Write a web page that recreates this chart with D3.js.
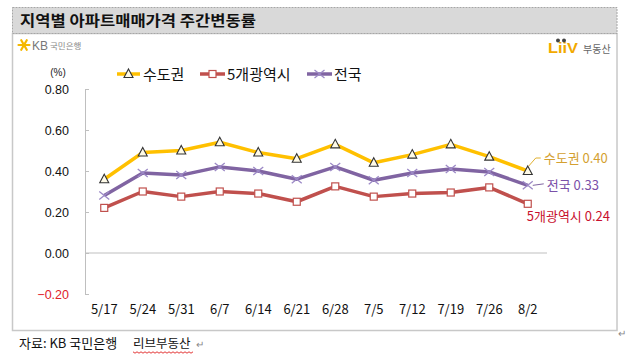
<!DOCTYPE html>
<html><head><meta charset="utf-8">
<script src="https://cdn.jsdelivr.net/npm/d3@7/dist/d3.min.js"></script>
<style>body{margin:0;background:#fff}svg{display:block}</style>
</head><body>
<svg id="c" width="634" height="356"></svg>
<script>
const dates = ["5/17","5/24","5/31","6/7","6/14","6/21","6/28","7/5","7/12","7/19","7/26","8/2"];
const capital = [0.36,0.49,0.50,0.54,0.49,0.46,0.53,0.44,0.48,0.53,0.47,0.40];
const metro5  = [0.22,0.30,0.275,0.30,0.29,0.25,0.325,0.275,0.29,0.295,0.32,0.24];
const nation  = [0.28,0.39,0.38,0.42,0.40,0.36,0.42,0.355,0.39,0.41,0.395,0.33];
const yTicks = [-0.2,0,0.2,0.4,0.6,0.8];
const seriesNames = ["수도권","5개광역시","전국"];
const titleText = "지역별 아파트매매가격 주간변동률";
const sourceText = "자료: KB 국민은행";
const sourceText2 = "리브부동산";

const svg = d3.select("#c");
const KR = "'Noto Sans CJK KR','Noto Sans',sans-serif";
const NUM = "'Liberation Sans',Arial,sans-serif";

// frames
svg.append("rect").attr("x",12.5).attr("y",33.5).attr("width",604.5).attr("height",297)
  .attr("fill","#fff").attr("stroke","#c8c8c8").attr("stroke-width",1.5);
svg.append("rect").attr("x",12.5).attr("y",7.5).attr("width",604.5).attr("height",26)
  .attr("fill","#d9d9d9").attr("stroke","#a6a6a6").attr("stroke-dasharray","2,1");
svg.append("text").attr("x",20).attr("y",26).attr("font-family",KR).attr("font-weight","bold")
  .attr("font-size",15).attr("fill","#111").attr("textLength",236).attr("lengthAdjust","spacingAndGlyphs").text(titleText);

// KB logo
const kb = svg.append("g").attr("transform","translate(24,45)");
for (let i=0;i<6;i++){
  kb.append("line").attr("x1",0).attr("y1",0).attr("x2",5.5*Math.cos(i*Math.PI/3)).attr("y2",5.5*Math.sin(i*Math.PI/3))
    .attr("stroke","#f5b800").attr("stroke-width",2.2).attr("stroke-linecap","round");
}
svg.append("text").attr("x",32).attr("y",49.5).attr("font-family",NUM).attr("font-size",12).attr("fill","#777").text("KB");
svg.append("text").attr("x",50).attr("y",48.5).attr("font-family",KR).attr("font-size",8.5).attr("fill","#888").text("국민은행");
// Liiv logo
svg.append("text").attr("x",548).attr("y",53).attr("font-family",NUM).attr("font-weight","bold").attr("font-size",15)
  .attr("fill","#f2a900").attr("textLength",30).attr("lengthAdjust","spacingAndGlyphs").text("LiiV");
svg.append("circle").attr("cx",558).attr("cy",40.5).attr("r",2).attr("fill","#444");
svg.append("circle").attr("cx",564).attr("cy",40.5).attr("r",2).attr("fill","#444");
svg.append("text").attr("x",583).attr("y",52.5).attr("font-family",KR).attr("font-size",10).attr("fill","#666").text("부동산");

// scales
const x = d3.scaleBand().domain(dates).range([85,547]);
const y = d3.scaleLinear().domain([-0.2,0.8]).range([294,89]);
const cx = d => x(d)+x.bandwidth()/2;

// y axis
const ya = svg.append("g").attr("transform","translate(85,0)")
  .call(d3.axisLeft(y).tickValues(yTicks).tickFormat(d3.format(".2f")).tickSizeInner(-4).tickSizeOuter(0).tickPadding(16));
ya.select(".domain").attr("stroke","#bfbfbf");
ya.selectAll(".tick line").attr("stroke","#bfbfbf");
ya.selectAll(".tick text").attr("font-family",NUM).attr("font-size",12.5)
  .attr("fill",d=>d<0?"#e0202a":"#111");
svg.append("text").attr("x",58).attr("y",76).attr("text-anchor","middle").attr("font-family",NUM)
  .attr("font-size",10).attr("fill","#222").text("(%)");

// zero line
svg.append("line").attr("x1",85).attr("x2",547).attr("y1",y(0)).attr("y2",y(0)).attr("stroke","#bfbfbf").attr("stroke-width",1);

// x axis labels
const xa = svg.append("g").attr("transform","translate(0,294)")
  .call(d3.axisBottom(x).tickSize(0).tickPadding(11));
xa.select(".domain").remove();
xa.selectAll(".tick text").attr("font-family",KR).attr("font-size",13).attr("fill","#111");

// series
const series = [
  {name:seriesNames[0], vals:capital, color:"#ffc000", marker:"tri"},
  {name:seriesNames[1], vals:metro5, color:"#c0504d", marker:"sq"},
  {name:seriesNames[2], vals:nation, color:"#8064a2", marker:"x"}
];
const line = d3.line().x((d,i)=>cx(dates[i])).y(d=>y(d));
function marker(g, type, px, py){
  if(type==="tri"){
    g.append("path").attr("d",`M${px},${py-5}L${px+4.5},${py+3.5}L${px-4.5},${py+3.5}Z`)
      .attr("fill","#fffbe8").attr("stroke","#333").attr("stroke-width",1.1);
  } else if(type==="sq"){
    g.append("rect").attr("x",px-3.5).attr("y",py-3.5).attr("width",7).attr("height",7)
      .attr("fill","#fff").attr("stroke","#c0504d").attr("stroke-width",1.2);
  } else {
    g.append("path").attr("d",`M${px-5},${py-4}L${px+5},${py+4}M${px-5},${py+4}L${px+5},${py-4}`)
      .attr("stroke","#9c89c6").attr("stroke-width",1.3);
  }
}
// draw order: red, purple, yellow
[series[1],series[2],series[0]].forEach(s=>{
  const g = svg.append("g");
  g.append("path").datum(s.vals).attr("d",line).attr("fill","none").attr("stroke",s.color)
    .attr("stroke-width",3.5).attr("stroke-linejoin","round");
  s.vals.forEach((v,i)=>marker(g,s.marker,cx(dates[i]),y(v)));
});

// legend
const leg = [
  {x1:117,x2:140,tx:143, s:series[0]},
  {x1:200,x2:225,tx:227, s:series[1]},
  {x1:307,x2:332,tx:334, s:series[2]}
];
leg.forEach(l=>{
  const g = svg.append("g");
  g.append("line").attr("x1",l.x1).attr("x2",l.x2).attr("y1",74).attr("y2",74).attr("stroke",l.s.color).attr("stroke-width",3.5);
  marker(g,l.s.marker,(l.x1+l.x2)/2,74);
  g.append("text").attr("x",l.tx).attr("y",79.5).attr("font-family",KR).attr("font-size",15).attr("fill","#111").text(l.s.name);
});

// end labels
const last = dates.length-1;
const fmt = d3.format(".2f");
const lx = cx(dates[last]);
svg.append("path").attr("d",`M${lx+1},${y(capital[last])-5}L${lx+8},${y(capital[last])-13}L${lx+13},${y(capital[last])-13}`)
  .attr("fill","none").attr("stroke","#e0b030").attr("stroke-width",1);
svg.append("text").attr("x",lx+16).attr("y",y(capital[last])-8).attr("font-family",KR).attr("font-size",13)
  .attr("fill","#d4a030").text(seriesNames[0]+" "+fmt(capital[last]));
svg.append("line").attr("x1",lx+5).attr("x2",lx+16).attr("y1",y(nation[last])).attr("y2",y(nation[last])-1.5)
  .attr("stroke","#8064a2").attr("stroke-width",1);
svg.append("text").attr("x",lx+19).attr("y",y(nation[last])+4.5).attr("font-family",KR).attr("font-size",13)
  .attr("fill","#7a50a8").text(seriesNames[2]+" "+fmt(nation[last]));
svg.append("text").attr("x",lx-1).attr("y",y(metro5[last])+17).attr("font-family",KR).attr("font-size",13)
  .attr("fill","#c8102e").text(seriesNames[1]+" "+fmt(metro5[last]));

// source
svg.append("text").attr("x",19).attr("y",348).attr("font-family",KR).attr("font-size",13).attr("fill","#111").text(sourceText);
svg.append("text").attr("x",133).attr("y",348).attr("font-family",KR).attr("font-size",12.5).attr("fill","#111").text(sourceText2);
// wavy underline
const wav = d3.range(0,62,2).map((d,i)=>[133+d, 352 + (i%2?1.2:-0.2)]);
svg.append("path").attr("d",d3.line()(wav)).attr("fill","none").attr("stroke","#e02020").attr("stroke-width",0.9);
svg.append("text").attr("x",196).attr("y",348).attr("font-family",NUM).attr("font-size",10).attr("fill","#888").text("↵");
svg.append("text").attr("x",618).attr("y",337).attr("font-family",NUM).attr("font-size",10).attr("fill","#888").text("↵");
</script>
</body></html>
